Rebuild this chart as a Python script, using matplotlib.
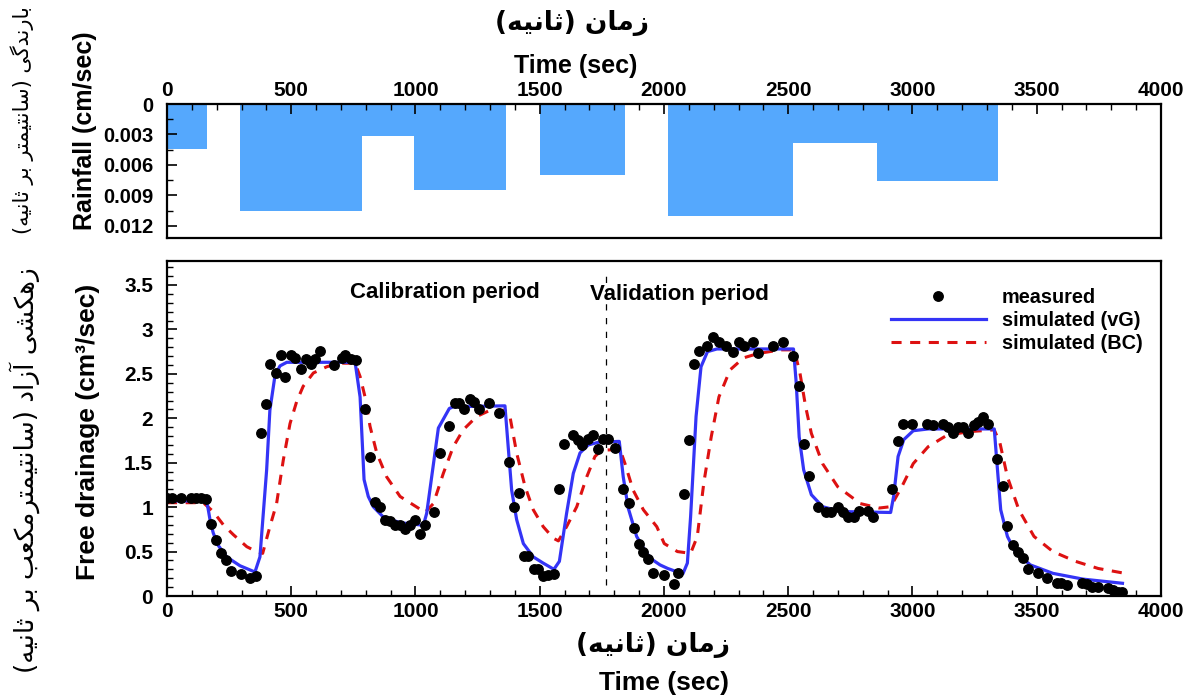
import numpy as np
import matplotlib
matplotlib.use('Agg')
import matplotlib.pyplot as plt
from matplotlib.ticker import MultipleLocator

# rainfall blocks (sec, cm/sec)
rain_start = [0, 292, 785, 995, 1500, 2015, 2520, 2858]
rain_end = [160, 785, 995, 1365, 1842, 2520, 2858, 3345]
rain_rate = [0.0044, 0.0105, 0.0032, 0.0085, 0.0070, 0.0110, 0.0038, 0.0076]

# measured free drainage
meas_t = [0, 19, 55, 95, 117, 136, 156, 176, 197, 216, 237, 256, 296, 334, 357,
          377, 397, 414, 439, 457, 476, 498, 516, 538, 558, 578, 596, 617, 672,
          703, 717, 742, 761, 798, 817, 837, 857, 877, 897, 917, 938, 958, 978,
          998, 1018, 1038, 1076, 1099, 1136, 1159, 1176, 1196, 1219, 1237, 1257,
          1297, 1337, 1377, 1398, 1418, 1438, 1454, 1477, 1494, 1514, 1534, 1559,
          1577, 1598, 1635, 1655, 1672, 1695, 1713, 1736, 1756, 1776, 1803, 1836,
          1859, 1879, 1899, 1917, 1937, 1957, 1998, 2039, 2058, 2080, 2099, 2119,
          2140, 2175, 2198, 2221, 2251, 2277, 2300, 2323, 2357, 2380, 2438, 2479,
          2520, 2544, 2562, 2582, 2620, 2653, 2672, 2699, 2722, 2741, 2763, 2783,
          2820, 2843, 2919, 2942, 2962, 3000, 3060, 3082, 3121, 3142, 3162, 3182,
          3203, 3223, 3246, 3265, 3284, 3304, 3340, 3364, 3382, 3405, 3425, 3443,
          3466, 3504, 3542, 3580, 3598, 3622, 3683, 3704, 3724, 3747, 3785, 3807,
          3825, 3845]
meas_q = [1.10, 1.10, 1.10, 1.10, 1.10, 1.10, 1.09, 0.81, 0.63, 0.48, 0.40, 0.285,
          0.25, 0.20, 0.225, 1.83, 2.16, 2.61, 2.51, 2.71, 2.46, 2.71, 2.68, 2.56,
          2.67, 2.61, 2.67, 2.76, 2.60, 2.68, 2.71, 2.67, 2.66, 2.11, 1.56, 1.055,
          1.005, 0.85, 0.84, 0.80, 0.80, 0.755, 0.80, 0.86, 0.70, 0.80, 0.95, 1.61,
          1.91, 2.17, 2.17, 2.10, 2.215, 2.18, 2.10, 2.17, 2.06, 1.51, 1.005, 1.16,
          0.455, 0.455, 0.30, 0.30, 0.23, 0.235, 0.25, 1.205, 1.71, 1.81, 1.76, 1.70,
          1.765, 1.81, 1.65, 1.765, 1.765, 1.66, 1.20, 1.05, 0.76, 0.59, 0.50, 0.42,
          0.255, 0.236, 0.14, 0.26, 1.15, 1.76, 2.61, 2.76, 2.815, 2.91, 2.86, 2.815,
          2.75, 2.86, 2.815, 2.86, 2.73, 2.815, 2.86, 2.70, 2.36, 1.71, 1.35, 1.00,
          0.95, 0.95, 1.005, 0.95, 0.89, 0.89, 0.96, 0.96, 0.89, 1.20, 1.74, 1.94,
          1.94, 1.94, 1.92, 1.94, 1.90, 1.83, 1.90, 1.90, 1.83, 1.92, 1.955, 2.01,
          1.94, 1.54, 1.24, 0.79, 0.57, 0.50, 0.43, 0.30, 0.26, 0.20, 0.15, 0.15,
          0.124, 0.143, 0.13, 0.105, 0.098, 0.087, 0.068, 0.048, 0.048]

# simulated (van Genuchten)
vg_t = [0, 160, 173, 186, 206, 240, 294, 354, 374, 401, 414, 435, 455, 482, 757,
        777, 793, 810, 830, 870, 938, 1018, 1031, 1045, 1092, 1136, 1152, 1360,
        1373, 1387, 1407, 1434, 1474, 1514, 1557, 1579, 1608, 1635, 1662, 1695,
        1736, 1820, 1836, 1856, 1890, 1930, 1955, 1984, 2015, 2069, 2076, 2094,
        2107, 2129, 2149, 2175, 2213, 2521, 2532, 2544, 2562, 2593, 2638, 2714,
        2912, 2924, 2942, 2965, 3003, 3063, 3329, 3340, 3355, 3382, 3413, 3474,
        3565, 3686, 3845]
vg_q = [1.07, 1.07, 0.86, 0.71, 0.57, 0.44, 0.34, 0.27, 0.44, 1.42, 2.09, 2.49,
        2.59, 2.63, 2.63, 2.24, 1.31, 1.12, 1.005, 0.89, 0.825, 0.80, 0.79, 0.93,
        1.89, 2.11, 2.13, 2.14, 1.68, 1.19, 0.86, 0.59, 0.44, 0.37, 0.30, 0.39,
        0.93, 1.38, 1.61, 1.70, 1.73, 1.74, 1.34, 0.99, 0.67, 0.48, 0.405, 0.35,
        0.31, 0.255, 0.25, 0.37, 0.89, 2.02, 2.58, 2.75, 2.78, 2.78, 2.40, 1.79,
        1.42, 1.14, 1.005, 0.95, 0.94, 1.12, 1.57, 1.76, 1.86, 1.88, 1.88, 1.49,
        0.97, 0.67, 0.50, 0.35, 0.255, 0.19, 0.143]

# simulated (Brooks-Corey)
bc_t = [0, 146, 186, 227, 267, 321, 360, 385, 414, 441, 468, 495, 522, 548, 589,
        643, 696, 757, 777, 797, 817, 844, 884, 938, 1011, 1038, 1072, 1112, 1152,
        1192, 1246, 1300, 1360, 1380, 1407, 1441, 1474, 1514, 1555, 1575, 1608,
        1649, 1689, 1722, 1749, 1823, 1843, 1876, 1917, 1971, 2001, 2054, 2107,
        2134, 2160, 2190, 2221, 2266, 2320, 2380, 2471, 2524, 2547, 2570, 2593,
        2638, 2699, 2790, 2866, 2912, 2957, 3003, 3063, 3139, 3230, 3329, 3352,
        3382, 3428, 3489, 3565, 3656, 3747, 3845]
bc_q = [1.05, 1.05, 0.95, 0.80, 0.69, 0.555, 0.50, 0.48, 0.78, 1.04, 1.53, 1.94,
        2.19, 2.36, 2.51, 2.58, 2.62, 2.62, 2.47, 2.24, 1.91, 1.61, 1.34, 1.12,
        0.99, 0.94, 1.04, 1.38, 1.68, 1.87, 2.02, 2.09, 2.09, 2.02, 1.61, 1.23,
        0.97, 0.78, 0.65, 0.62, 0.78, 1.005, 1.34, 1.57, 1.64, 1.65, 1.49, 1.19,
        0.97, 0.78, 0.59, 0.50, 0.48, 0.67, 1.27, 1.79, 2.24, 2.545, 2.68, 2.73,
        2.77, 2.77, 2.51, 2.13, 1.83, 1.49, 1.23, 1.04, 0.99, 1.005, 1.23, 1.49,
        1.68, 1.81, 1.85, 1.87, 1.72, 1.34, 0.97, 0.67, 0.50, 0.39, 0.31, 0.26]

split_t = 1765

# --- crude Persian shaping (presentation forms + visual order) ---
FORMS = {
    'ا': ('\uFE8D', '\uFE8E', None, None),
    'آ': ('\uFE81', '\uFE82', None, None),
    'د': ('\uFEA9', '\uFEAA', None, None),
    'ر': ('\uFEAD', '\uFEAE', None, None),
    'ز': ('\uFEAF', '\uFEB0', None, None),
    'ب': ('\uFE8F', '\uFE90', '\uFE91', '\uFE92'),
    'ت': ('\uFE95', '\uFE96', '\uFE97', '\uFE98'),
    'ث': ('\uFE99', '\uFE9A', '\uFE9B', '\uFE9C'),
    'س': ('\uFEB1', '\uFEB2', '\uFEB3', '\uFEB4'),
    'ش': ('\uFEB5', '\uFEB6', '\uFEB7', '\uFEB8'),
    'ع': ('\uFEC9', '\uFECA', '\uFECB', '\uFECC'),
    'م': ('\uFEE1', '\uFEE2', '\uFEE3', '\uFEE4'),
    'ن': ('\uFEE5', '\uFEE6', '\uFEE7', '\uFEE8'),
    'ه': ('\uFEE9', '\uFEEA', '\uFEEB', '\uFEEC'),
    'ک': ('\uFB8E', '\uFB8F', '\uFB90', '\uFB91'),
    'گ': ('\uFB92', '\uFB93', '\uFB94', '\uFB95'),
    'ی': ('\uFBFC', '\uFBFD', '\uFBFE', '\uFBFF'),
}


def fa(s):
    out = []
    for i, c in enumerate(s):
        if c not in FORMS:
            out.append(c)
            continue
        prv = s[i - 1] if i > 0 else ''
        nxt = s[i + 1] if i + 1 < len(s) else ''
        jp = prv in FORMS and FORMS[prv][2] is not None
        jn = nxt in FORMS and FORMS[c][2] is not None
        iso, fin, ini, med = FORMS[c]
        out.append(med if jp and jn else fin if jp else ini if jn else iso)
    return ''.join(out)[::-1].translate(str.maketrans('()', ')('))


plt.rcParams.update({
    'font.family': ['Liberation Sans', 'DejaVu Sans'],
    'font.weight': 'bold',
    'axes.linewidth': 1.6,
    'xtick.direction': 'in',
    'ytick.direction': 'in',
})
FA = ['DejaVu Sans']

W, H = 1190, 698
fig = plt.figure(figsize=(W / 100, H / 100), dpi=100)
L, R = 167 / W, 1161 / W
ax1 = fig.add_axes([L, 1 - 238 / H, R - L, (238 - 104) / H])
ax2 = fig.add_axes([L, 1 - 596 / H, R - L, (596 - 261) / H])

# rainfall
widths = np.array(rain_end) - np.array(rain_start)
ax1.bar(rain_start, rain_rate, width=widths, align='edge', color='#55a8fd',
        edgecolor='none')
ax1.set_xlim(0, 4000)
ax1.set_ylim(0.0132, 0)
ax1.xaxis.tick_top()
ax1.xaxis.set_major_locator(MultipleLocator(500))
ax1.xaxis.set_minor_locator(MultipleLocator(100))
ax1.yaxis.set_major_locator(MultipleLocator(0.003))
ax1.yaxis.set_minor_locator(MultipleLocator(0.0015))
ax1.yaxis.set_major_formatter(plt.FuncFormatter(lambda v, p: '0' if v == 0 else f'{v:.3f}'))
ax1.tick_params(axis='x', which='major', length=7, width=1.2, labelsize=15, pad=3)
ax1.tick_params(axis='x', which='minor', length=4, width=1.0)
ax1.tick_params(axis='y', which='major', length=7, width=1.2, labelsize=14.5, pad=10)
ax1.tick_params(axis='y', which='minor', length=4, width=1.0)

# drainage
ax2.plot(meas_t, meas_q, 'o', color='black', ms=6.8, label='measured', zorder=4)
ax2.plot(vg_t, vg_q, '-', color='#3434f6', lw=2.3, label='simulated (vG)', zorder=3)
ax2.plot(bc_t, bc_q, '--', color='#dd1111', lw=2.2, dashes=(3.3, 2.8),
         label='simulated (BC)', zorder=2)
ax2.vlines(split_t, 0.12, 3.68, colors='black', linestyles=(0, (5, 6)), lw=0.9)
ax2.set_xlim(0, 4000)
ax2.set_ylim(0, 3.77)
ax2.xaxis.set_major_locator(MultipleLocator(500))
ax2.xaxis.set_minor_locator(MultipleLocator(100))
ax2.yaxis.set_major_locator(MultipleLocator(0.5))
ax2.yaxis.set_minor_locator(MultipleLocator(0.1))
ax2.yaxis.set_major_formatter(plt.FuncFormatter(lambda v, p: f'{v:g}'))
ax2.tick_params(axis='x', which='major', length=7, width=1.2, labelsize=15, pad=4)
ax2.tick_params(axis='x', which='minor', length=4, width=1.0)
ax2.tick_params(axis='y', which='major', length=7, width=1.2, labelsize=15, pad=10)
ax2.tick_params(axis='y', which='minor', length=4, width=1.0)

ax2.text(736, 3.42, 'Calibration period', fontsize=16, fontweight='bold', va='center')
ax2.text(1702, 3.39, 'Validation period', fontsize=16, fontweight='bold', va='center')

ax2.legend(loc='upper left', bbox_to_anchor=(0.728, 0.92), frameon=False,
           fontsize=14.3, handlelength=4.8, handletextpad=0.8, labelspacing=0.2,
           borderpad=0, borderaxespad=0)

# axis titles
fig.text(572 / W, 1 - 23 / H, fa('زمان (ثانیه)'), family=FA, fontsize=19,
         fontweight='bold', ha='center', va='center')
fig.text(576 / W, 1 - 66 / H, 'Time (sec)', fontsize=18, ha='center', va='center')
fig.text(653 / W, 1 - 645 / H, fa('زمان (ثانیه)'), family=FA, fontsize=19,
         fontweight='bold', ha='center', va='center')
fig.text(664 / W, 1 - 683 / H, 'Time (sec)', fontsize=19, ha='center', va='center')
fig.text(85 / W, 1 - 131 / H, 'Rainfall (cm/sec)', fontsize=18, rotation=90,
         ha='center', va='center')
fig.text(88 / W, 1 - 432 / H, 'Free drainage (cm\u00b3/sec)', fontsize=19,
         rotation=90, ha='center', va='center')
fig.text(22 / W, 1 - 120 / H, fa('بارندگی (سانتیمتر بر ثانیه)'), family=FA,
         fontsize=15, fontweight='normal', rotation=90, ha='center', va='center')
fig.text(25 / W, 1 - 470 / H, fa('زهکشی آزاد (سانتیمترمکعب بر ثانیه)'), family=FA,
         fontsize=19, fontweight='normal', rotation=90, ha='center', va='center')

fig.savefig('out.png', dpi=100)
